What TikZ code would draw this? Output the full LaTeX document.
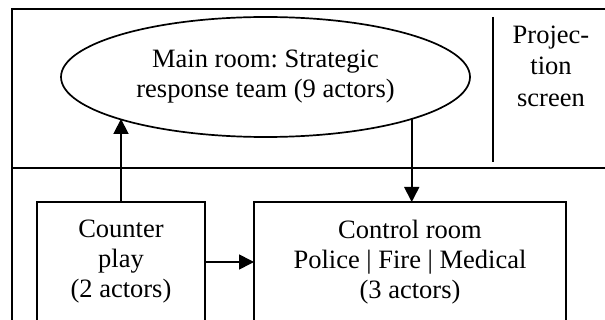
\documentclass[tikz,border=0pt]{standalone}
\usepackage{fontspec}
\setmainfont{Liberation Serif}
\frenchspacing
\usetikzlibrary{positioning,arrows.meta,shapes.geometric}
\tikzset{
  wall/.style={line width=1.7pt},
  label font/.style={font=\fontsize{26.5}{30}\selectfont,align=center},
  room/.style={draw,wall,label font,rectangle,inner sep=0pt,outer sep=0pt,minimum height=120pt},
  team/.style={draw,wall,label font,ellipse,inner sep=0pt,outer sep=0pt,minimum width=409pt,minimum height=120pt},
  flow/.style={wall,-{Triangle[length=15pt,width=15pt]}}
}

\begin{document}
\begin{tikzpicture}[x=1pt,y=-1pt]
  \clip (0,0) rectangle (605,320);
  % walls of the building
  \draw[wall] (605,9) -| (12,320);
  \draw[wall] (12,168) -- (605,168);
  \draw[wall] (493,17) -- (493,162);

  \node[team] (main) at (265.5,77) {Main room: Strategic\\response team (9 actors)};
  \node[label font,font=\fontsize{26.5}{31.5}\selectfont] (proj) at (551,66) {Projec-\\tion\\screen};
  \node[room,minimum width=168pt] (cplay) at (121,262) {Counter\\play\\(2 actors)};
  \node[room,minimum width=312pt] (ctrl) [right=49pt of cplay] {Control room\\Police | Fire | Medical\\(3 actors)};

  \path[flow]
    (cplay.north) edge (cplay.north |- main.196.4)
    (main.-16.4) edge (main.-16.4 |- ctrl.north)
    (cplay) edge (ctrl);
\end{tikzpicture}
\end{document}
